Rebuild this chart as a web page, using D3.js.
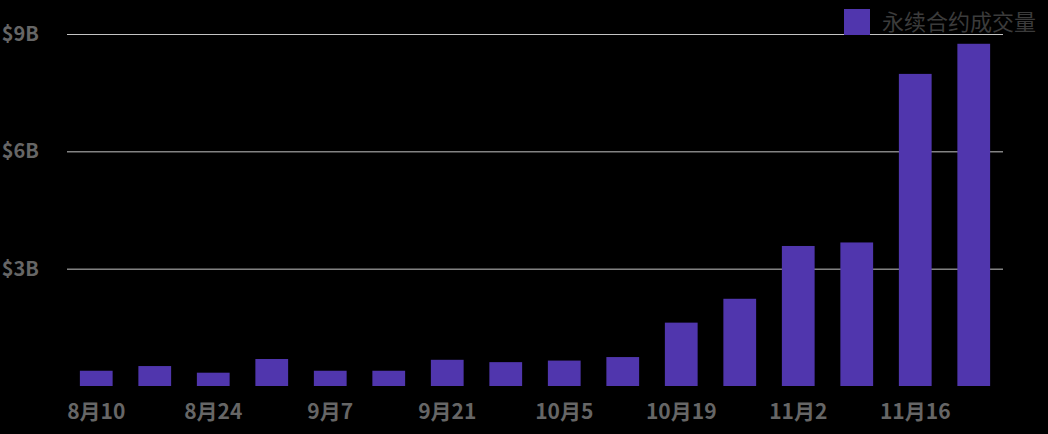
<!DOCTYPE html>
<html>
<head>
<meta charset="utf-8">
<script src="https://cdn.jsdelivr.net/npm/d3@7"></script>
<style>
  html, body { margin: 0; padding: 0; background: #000; }
  svg { display: block; }
</style>
</head>
<body>
<svg id="chart"></svg>
<script>
// weekly perpetual contract volume, billions USD
const weeks = ["8月10", "8月17", "8月24", "8月31", "9月7", "9月14", "9月21", "9月28",
    "10月5", "10月12", "10月19", "10月26", "11月2", "11月9", "11月16", "11月23"]
const volumes = [0.39, 0.51, 0.34, 0.69, 0.39, 0.39, 0.67, 0.61,
    0.65, 0.74, 1.62, 2.23, 3.58, 3.67, 7.98, 8.75]
const yTicks = [3, 6, 9]
const xTickLabels = ["8月10", "8月24", "9月7", "9月21", "10月5", "10月19", "11月2", "11月16"]
const seriesName = "永续合约成交量"

const config = {
    width: 1048,
    height: 434,
    left: 67,
    right: 1003,
    top: 34,
    bottom: 386,
    barColor: "#5036ad",
    gridColor: "#c4c4c4",
    labelColor: "#666",
    legendColor: "#3b3b3b",
    font: "'Noto Sans CJK SC', 'Noto Sans', sans-serif"
}

const svg = d3.select("#chart")
    .attr("width", config.width)
    .attr("height", config.height)
    .style("background-color", "#000")

const x = d3.scaleBand()
    .domain(weeks)
    .range([config.left, config.right])
    .paddingInner(0.44)
    .paddingOuter(0.22)

const y = d3.scaleLinear()
    .domain([0, 9])
    .range([config.bottom, config.top])

// gridlines + y labels
const yAxis = d3.axisLeft(y)
    .tickValues(yTicks)
    .tickSize(-(config.right - config.left))
    .tickPadding(28)
    .tickFormat(d => `$${d}B`)

const yG = svg.append("g")
    .attr("transform", `translate(${config.left},0)`)
    .call(yAxis)
yG.select(".domain").remove()
yG.selectAll(".tick line")
    .style("stroke", config.gridColor)
    .style("stroke-width", 1)
yG.selectAll(".tick text")
    .style("fill", config.labelColor)
    .style("font-family", config.font)
    .style("font-size", "20px")
    .style("font-weight", "bold")

svg.append("g")
    .selectAll("rect")
    .data(volumes)
    .join("rect")
    .attr("x", (d, i) => x(weeks[i]))
    .attr("y", d => y(d))
    .attr("width", x.bandwidth())
    .attr("height", d => y(0) - y(d))
    .style("fill", config.barColor)

// x labels, every other week
const xAxis = d3.axisBottom(x)
    .tickValues(xTickLabels)
    .tickSize(0)
    .tickPadding(18)

const xG = svg.append("g")
    .attr("transform", `translate(0,${config.bottom})`)
    .call(xAxis)
xG.select(".domain").remove()
xG.selectAll(".tick text")
    .style("fill", config.labelColor)
    .style("font-family", config.font)
    .style("font-size", "21px")
    .style("font-weight", "bold")

// legend
const legend = svg.append("g").attr("transform", "translate(844,9)")
legend.append("rect")
    .attr("width", 26).attr("height", 26)
    .style("fill", config.barColor)
legend.append("text")
    .text(seriesName)
    .attr("x", 38).attr("y", 21)
    .style("fill", config.legendColor)
    .style("font-family", config.font)
    .style("font-size", "22px")
</script>
</body>
</html>
